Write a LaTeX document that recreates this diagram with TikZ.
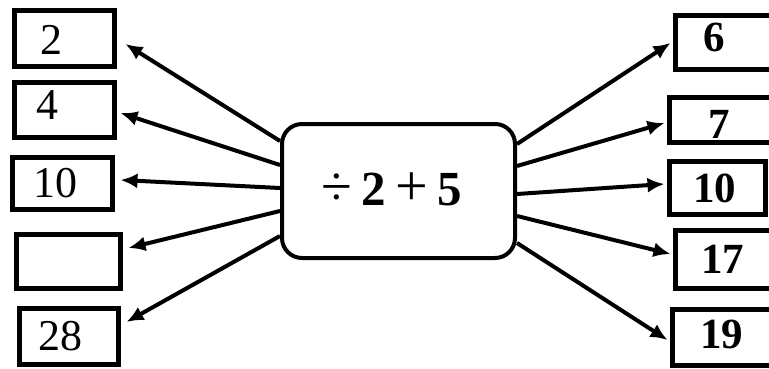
\documentclass[tikz,border=0pt]{standalone}
\usepackage{fontspec}
\setmainfont{Liberation Serif}
\usetikzlibrary{arrows.meta,calc}
\begin{document}
\begin{tikzpicture}[x=1pt,y=-1pt,
  numbox/.style={draw,line width=5pt,rectangle,inner sep=0pt},
  centbox/.style={draw,line width=4pt,rounded corners=20pt,inner sep=0pt,minimum width=233pt,minimum height=134pt},
  lefttxt/.style={anchor=base west,inner sep=0pt,font=\fontsize{44}{44}\selectfont},
  righttxt/.style={anchor=base west,inner sep=0pt,font=\fontsize{43}{43}\selectfont\bfseries},
  arr/.style={line width=4pt,-{Latex[length=17pt,width=15pt]}}]
\useasboundingbox (0,0) rectangle (769,369);
% centre
\node[centbox] (c) at (398.5,191) {};
\node[anchor=base west,inner sep=0pt,font=\fontsize{49}{49}\selectfont] (ct) at (321,205)
  {{\fontsize{56}{56}\selectfont ÷}\hspace{9.5pt}\textbf{2}\hspace{10pt}{\fontsize{58}{58}\selectfont +}\hspace{9pt}\textbf{5}};
% left boxes
\node[numbox,minimum width=100pt,minimum height=56pt] (L1) at (64.5,38.5) {};
\node[numbox,minimum width=100pt,minimum height=55pt] (L2) at (64.5,110) {};
\node[numbox,minimum width=100pt,minimum height=52pt] (L3) at (62.5,183.5) {};
\node[numbox,minimum width=104pt,minimum height=54pt] (L4) at (68.5,261.5) {};
\node[numbox,minimum width=99pt,minimum height=56pt] (L5) at (69,336.5) {};
\node[lefttxt] (t1) at (40,55) {2};
\node[lefttxt] (t2) at (36,120) {4};
\node[lefttxt] (t3) at (33,197) {10};
\node[lefttxt] (t5) at (38,350) {28};
% right boxes
\node[numbox,minimum width=109.5pt,minimum height=54pt] (R1) at (730.25,42.5) {};
\node[numbox,minimum width=115.5pt,minimum height=45pt] (R2) at (727.25,120) {};
\node[numbox,minimum width=96pt,minimum height=53pt] (R3) at (717.5,188) {};
\node[numbox,minimum width=109.5pt,minimum height=58pt] (R4) at (730.25,259.5) {};
\node[numbox,minimum width=112.5pt,minimum height=56pt] (R5) at (728.75,337.5) {};
\node[righttxt] (u1) at (703,52) {6};
\node[righttxt] (u2) at (708,138) {7};
\node[righttxt] (u3) at (693,202) {10};
\node[righttxt] (u4) at (701,273) {17};
\node[righttxt] (u5) at (700,348) {19};
% arrows left
\draw[arr] ($(c.north west)+(0,19)$) -- ($(L1.east)+(8.5,5.5)$);
\draw[arr] ($(c.north west)+(0,43)$) -- ($(L2.east)+(3.5,3)$);
\draw[arr] ($(c.north west)+(0,66)$) -- ($(L3.east)+(5.5,-3.5)$);
\draw[arr] ($(c.north west)+(0,89)$) -- ($(L4.east)+(5.5,-13.5)$);
\draw[arr] ($(c.north west)+(0,114)$) -- ($(L5.east)+(5.5,-14.5)$);
% arrows right
\draw[arr] ($(c.north east)+(0,22)$) -- ($(R1.west)+(-2.5,0.5)$);
\draw[arr] ($(c.north east)+(0,44)$) -- ($(R2.west)+(-2.5,3)$);
\draw[arr] ($(c.north east)+(0,72)$) -- ($(R3.west)+(-2.5,-4)$);
\draw[arr] ($(c.north east)+(0,94)$) -- ($(R4.west)+(-2.5,-5.5)$);
\draw[arr] ($(c.north east)+(0,121)$) -- ($(R5.west)+(-2.5,2.5)$);
\end{tikzpicture}
\end{document}
